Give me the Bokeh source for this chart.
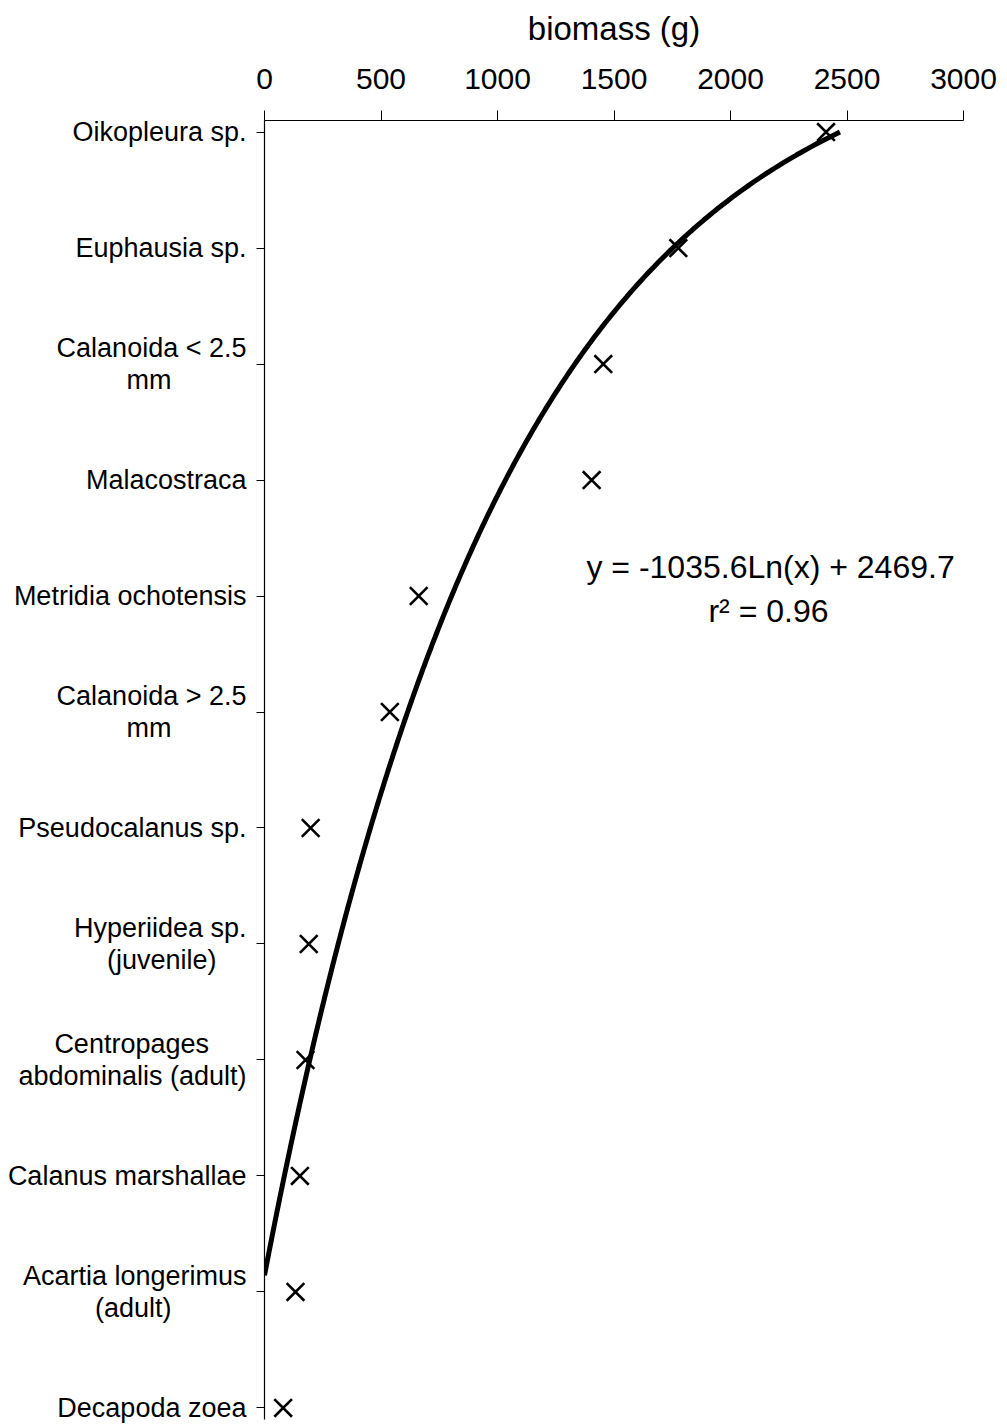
import numpy as np
from bokeh.plotting import figure
from bokeh.models import Range1d, FixedTicker, Label
from bokeh.embed import file_html
from bokeh.resources import INLINE

# Zooplankton taxa ranked by biomass (rank 1 = top of the axis)
species = [
    "Oikopleura sp.",
    "Euphausia sp.",
    "Calanoida < 2.5\nmm",
    "Malacostraca",
    "Metridia ochotensis",
    "Calanoida > 2.5\nmm",
    "Pseudocalanus sp.",
    "Hyperiidea sp.\n(juvenile)",
    "Centropages\nabdominalis (adult)",
    "Calanus marshallae",
    "Acartia longerimus\n(adult)",
    "Decapoda zoea",
]
rank = list(range(1, len(species) + 1))
biomass = [2410, 1776, 1454, 1404, 662, 538, 198, 190, 176, 152, 133, 80]

x_ticks = [0, 500, 1000, 1500, 2000, 2500, 3000]

# Logarithmic trendline: biomass = a*ln(rank) + b
fit_a = -1035.6
fit_b = 2469.7
fit_r2 = 0.96

FONT = "Liberation Sans"
LABEL_SIZE = 27          # px, taxon labels

# Approximate Arial/Liberation Sans advance widths (1/1000 em), used to
# centre the lines of a two-line label on each other.
_ADV = {
    " ": 278, "\u00a0": 278, ".": 278, "<": 584, ">": 584, "(": 333, ")": 333,
    "2": 556, "5": 556, "A": 667, "C": 722, "H": 722,
    "a": 556, "b": 556, "c": 500, "d": 556, "e": 556, "g": 556, "i": 222,
    "j": 222, "l": 222, "m": 833, "n": 556, "o": 556, "p": 556, "r": 333,
    "s": 500, "t": 278, "u": 556, "v": 500, "y": 500,
}


def text_width(s):
    return sum(_ADV.get(ch, 556) for ch in s) / 1000.0


def centred_lines(name):
    """Pad the shorter lines with no-break spaces so that right-aligned
    tick labels read as centred lines."""
    lines = name.split("\n")
    if len(lines) == 1:
        return name
    widest = max(text_width(ln) for ln in lines)
    out = []
    for ln in lines:
        n = int(round((widest - text_width(ln)) / 2 / text_width("\u00a0")))
        out.append(ln + "\u00a0" * n)
    return "\n".join(out)


p = figure(
    width=1007, height=1426,
    x_range=Range1d(0, 3000),
    y_range=Range1d(12.1, 0.9),
    x_axis_location="above",
    output_backend="svg", toolbar_location=None,
    min_border_left=264, min_border_right=44,
    min_border_top=120, min_border_bottom=7,
)
p.outline_line_color = None
p.grid.visible = False
p.background_fill_color = "white"
p.border_fill_color = "white"

# Trendline, drawn until it meets the biomass = 0 axis
r_end = float(np.exp(-fit_b / fit_a))
r_line = np.linspace(1.0, r_end, 300)
p.line(fit_a * np.log(r_line) + fit_b, r_line, line_color="black", line_width=5)

# Observations
p.scatter(biomass, rank, marker="x", size=25, line_color="black", line_width=2.6)

# Top biomass axis
xa = p.xaxis[0]
xa.ticker = FixedTicker(ticks=x_ticks)
xa.minor_tick_line_color = None
xa.major_tick_out = 10
xa.major_tick_in = 0
xa.axis_line_color = "black"
xa.major_tick_line_color = "black"
xa.axis_line_width = 1.2
xa.major_label_text_font = FONT
xa.major_label_text_font_size = "30px"
xa.major_label_text_color = "black"
xa.major_label_standoff = 22
xa.axis_label = "biomass (g)"
xa.axis_label_text_font = FONT
xa.axis_label_text_font_size = "33px"
xa.axis_label_text_font_style = "normal"
xa.axis_label_text_color = "black"
xa.axis_label_standoff = 19

# Left taxon axis
ya = p.yaxis[0]
ya.ticker = FixedTicker(ticks=rank)
ya.major_label_overrides = {r: centred_lines(s) for r, s in zip(rank, species)}
ya.minor_tick_line_color = None
ya.major_tick_out = 8
ya.major_tick_in = 0
ya.axis_line_color = "black"
ya.major_tick_line_color = "black"
ya.axis_line_width = 1.2
ya.major_label_text_font = FONT
ya.major_label_text_font_size = f"{LABEL_SIZE}px"
ya.major_label_text_color = "black"
ya.major_label_text_line_height = 1.08
ya.major_label_standoff = 10

# Trendline equation
p.add_layout(Label(x=2172, y=4.754, text=f"y = {fit_a}Ln(x) + {fit_b}",
                   text_align="center", text_baseline="middle",
                   text_font=FONT, text_font_size="32px", text_color="black"))
p.add_layout(Label(x=2163, y=5.125, text=f"r² = {fit_r2:.2f}",
                   text_align="center", text_baseline="middle",
                   text_font=FONT, text_font_size="32px", text_color="black"))

open("out.html", "w").write(file_html(p, INLINE))
